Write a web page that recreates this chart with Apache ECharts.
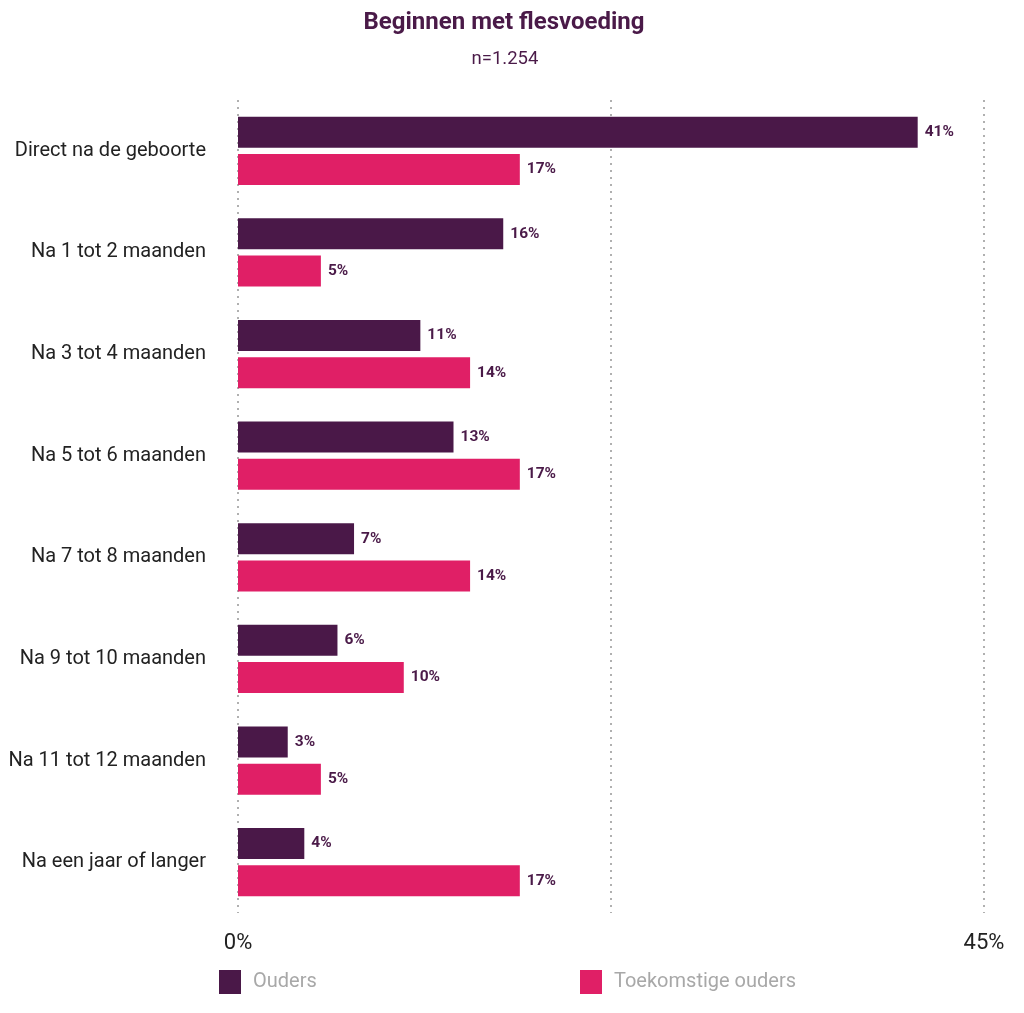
<!DOCTYPE html>
<html><head><meta charset="utf-8">
<script src="https://cdn.jsdelivr.net/npm/echarts@6/dist/echarts.min.js"></script>
<style>html,body{margin:0;padding:0;background:#fff}#c{width:1024px;height:1013px}</style>
</head><body><div id="c"></div>
<script>
const categories = ["Direct na de geboorte","Na 1 tot 2 maanden","Na 3 tot 4 maanden","Na 5 tot 6 maanden","Na 7 tot 8 maanden","Na 9 tot 10 maanden","Na 11 tot 12 maanden","Na een jaar of langer"];
const ouders = [41,16,11,13,7,6,3,4];
const toekomstig = [17,5,14,17,14,10,5,17];
const seriesNames = ["Ouders","Toekomstige ouders"];
const xTicks = [0,22.5,45];
const tickLabels = {0:"0%",45:"45%"};

const C1 = "#4a1848", C2 = "#e01f66", LBL = "#4a1a48";
const font = "Roboto, 'Noto Sans', sans-serif";
const chart = echarts.init(document.getElementById('c'));
const labelOpt = {show:true, position:'right', distance:7, formatter:'{c}%', color:LBL, fontWeight:'bold', fontSize:15.5, fontFamily:font};
chart.setOption({
  animation:false,
  title:[
    {text:"Beginnen met flesvoeding", left:499, top:6, textAlign:'center',
     textStyle:{color:LBL, fontSize:24, fontWeight:'bold', fontFamily:font}},
    {text:"n=1.254", left:500, top:45, textAlign:'center',
     textStyle:{color:LBL, fontSize:18.5, fontWeight:'normal', fontFamily:font}}
  ],
  legend:[
    {data:[seriesNames[0]], left:214, top:965, itemWidth:22, itemHeight:24, icon:'rect',
     textStyle:{color:'#a8a8a8', fontSize:20, fontFamily:font, padding:[4,0,0,7]}},
    {data:[seriesNames[1]], left:575, top:965, itemWidth:22, itemHeight:24, icon:'rect',
     textStyle:{color:'#a8a8a8', fontSize:20, fontFamily:font, padding:[4,0,0,7]}}
  ],
  grid:{left:238, right:40, top:100, bottom:100, containLabel:false},
  xAxis:{type:'value', min:0, max:45, interval:22.5,
    axisLine:{show:false}, axisTick:{show:false},
    splitLine:{show:true, lineStyle:{type:[2,5], color:'#b0b0b0', width:2}},
    axisLabel:{margin:19, fontSize:22, color:'#222', fontFamily:font,
      formatter:v => tickLabels[v] !== undefined ? tickLabels[v] : ''}},
  yAxis:{type:'category', data:categories, inverse:true,
    axisLine:{show:false}, axisTick:{show:false},
    axisLabel:{margin:32, fontSize:20, color:'#222', fontFamily:font}},
  series:[
    {name:seriesNames[0], type:'bar', data:ouders, itemStyle:{color:C1}, barWidth:31, barGap:'20%', label:labelOpt},
    {name:seriesNames[1], type:'bar', data:toekomstig, itemStyle:{color:C2}, barWidth:31, barGap:'20%', label:labelOpt}
  ]
});
</script></body></html>
